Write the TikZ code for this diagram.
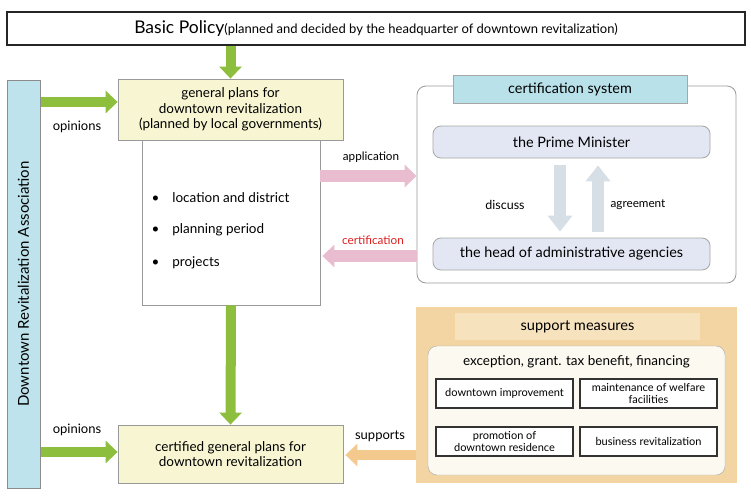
\documentclass[tikz,border=0pt]{standalone}
\usepackage{fontspec}
\setmainfont{Lato}
\usetikzlibrary{arrows.meta,positioning}

\definecolor{arrowgreen}{RGB}{141,190,62}
\definecolor{planyellow}{RGB}{248,246,210}
\definecolor{assocblue}{RGB}{190,227,236}
\definecolor{titleblue}{RGB}{184,225,234}
\definecolor{pmfill}{RGB}{226,231,243}
\definecolor{pinkarrow}{RGB}{233,188,208}
\definecolor{grayarrow}{RGB}{214,223,230}
\definecolor{supporttan}{RGB}{243,213,164}
\definecolor{supportband}{RGB}{247,226,190}
\definecolor{supportinner}{RGB}{252,250,240}
\definecolor{orangearrow}{RGB}{244,201,142}
\definecolor{certred}{RGB}{220,30,30}

\begin{document}
\begin{tikzpicture}[x=1pt,y=-1pt,
	policybox/.style={
		draw=black!85,
		line width=1.6pt,
		fill=white,
		minimum width=738pt,
		minimum height=33pt},
	planbox/.style={
		draw=black!40,
		line width=0.8pt,
		fill=planyellow,
		align=center,
		minimum width=225pt,
		font=\fontsize{13.5}{15.5}\selectfont},
	bodybox/.style={
		draw=black!40,
		line width=0.8pt,
		fill=white,
		minimum width=178pt,
		minimum height=165pt},
	assocbox/.style={
		draw=black!45,
		line width=1pt,
		fill=assocblue,
		rotate=90,
		minimum width=408pt,
		minimum height=33pt,
		font=\fontsize{15}{17}\selectfont},
	certframe/.style={
		draw=black!40,
		line width=0.8pt,
		fill=white,
		rounded corners=9pt,
		minimum width=319pt,
		minimum height=197pt},
	titlebox/.style={
		draw=black!35,
		line width=0.8pt,
		fill=titleblue,
		minimum width=234pt,
		minimum height=28pt,
		font=\fontsize{14.4}{16}\selectfont},
	rolebox/.style={
		draw=black!35,
		line width=0.8pt,
		fill=pmfill,
		rounded corners=8pt,
		minimum width=277pt,
		minimum height=32pt,
		font=\fontsize{14.4}{16}\selectfont},
	measurebox/.style={
		draw=black!80,
		line width=1.5pt,
		fill=white,
		align=center,
		minimum width=137pt,
		minimum height=29pt,
		inner sep=1pt,
		font=\fontsize{11}{12.5}\selectfont},
	lbl/.style={font=\fontsize{13}{15}\selectfont},
	smalllbl/.style={font=\fontsize{11.7}{13}\selectfont},
	greenarrow/.style={draw=arrowgreen,line width=10pt,-{Triangle[length=12pt,width=22pt]}},
	pinkarr/.style={draw=pinkarrow,line width=12pt,-{Triangle[length=12pt,width=22pt]}},
	grayarr/.style={draw=grayarrow,line width=12pt,-{Triangle[length=16pt,width=24pt]}},
	orangearr/.style={draw=orangearrow,line width=10pt,-{Triangle[length=12pt,width=22pt]}}
	]
	\useasboundingbox (0,0) rectangle (751,503);

	% top and left column
	\node[policybox] (policy) at (376,28.5) {\fontsize{17.5}{19}\selectfont Basic Policy\fontsize{13}{15}\selectfont(planned and decided by the headquarter of downtown revitalization)};
	\node[assocbox] (assoc) at (23.5,284) {Downtown Revitalization Association};
	\node[bodybox] (planbody) at (231,222.5) {};
	\node[planbox,minimum height=61pt] (plans) at (230.5,109.5) {general plans for\\downtown revitalization\\(planned by local governments)};
	\node[planbox,minimum height=58pt] (certified) at (230.5,454) {certified general plans for\\downtown revitalization};

	\foreach \y/\txt in {198/location and district,230/planning period,263/projects}
		\node[anchor=west,font=\fontsize{13.5}{15}\selectfont] (item\y) at (148,\y) {\textbullet\hspace{13pt}\txt};

	% certification system
	\node[certframe] (certsys) at (576.5,184.5) {};
	\node[titlebox] (certtitle) at (570,89) {certification system};
	\node[rolebox] (pm) at (571.5,142) {the Prime Minister};
	\node[rolebox] (head) at (571.5,254) {the head of administrative agencies};

	% support measures
	\node[fill=supporttan,minimum width=321pt,minimum height=176pt] (support) at (576.5,395) {};
	\node[fill=supportband,minimum width=245pt,minimum height=27pt,font=\fontsize{14.6}{16}\selectfont] (suptitle) at (577.5,326.5) {support measures};
	\node[draw=black!35,fill=supportinner,rounded corners=9pt,minimum width=297pt,minimum height=129pt] (supinner) at (576.5,410.5) {};
	\node[font=\fontsize{13.5}{15}\selectfont] (exception) at (576.5,362) {exception, grant. tax benefit, financing};
	\node[measurebox] (m1) at (504.5,393.5) {downtown improvement};
	\node[measurebox] (m2) at (648.5,393.5) {maintenance of welfare\\facilities};
	\node[measurebox] (m3) at (504.5,441.5) {promotion of\\downtown residence};
	\node[measurebox] (m4) at (648.5,441.5) {business revitalization};

	% arrows
	\draw[greenarrow] (policy.south -| plans.north) -- (plans.north);
	\draw[greenarrow] (planbody.south) -- (certified.north);
	\draw[greenarrow] (assoc.south |- 0,102) -- (plans.west |- 0,102);
	\draw[greenarrow] (assoc.south |- 0,452) -- (certified.west |- 0,452);
	\draw[pinkarr] (planbody.east |- 0,176) -- (certsys.west |- 0,176);
	\draw[pinkarr,shorten >=2pt] (certsys.west |- 0,256) -- (planbody.east |- 0,256);
	\draw[grayarr,shorten <=7pt,shorten >=6pt] (pm.south -| 560,0) -- (head.north -| 560,0);
	\draw[grayarr,shorten <=6pt,shorten >=7pt] (head.north -| 598,0) -- (pm.south -| 598,0);
	\draw[orangearr,shorten >=2pt] (support.west |- 0,455) -- (certified.east |- 0,455);

	% labels
	\node[lbl] (op1) at (77,127) {opinions};
	\node[lbl] (op2) at (77,430) {opinions};
	\node[smalllbl] (appl) at (371,157) {application};
	\node[smalllbl,text=certred] (certl) at (373,240) {certification};
	\node[smalllbl,font=\fontsize{12.5}{14}\selectfont] (disc) at (505,205) {discuss};
	\node[smalllbl] (agree) at (638,205) {agreement};
	\node[lbl] (supl) at (380,436) {supports};
\end{tikzpicture}
\end{document}
